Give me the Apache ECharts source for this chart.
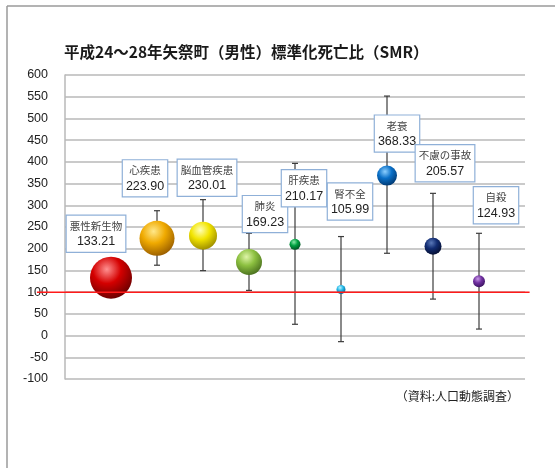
<!DOCTYPE html>
<html>
<head>
<meta charset="utf-8">
<script src="https://cdn.jsdelivr.net/npm/echarts@6/dist/echarts.min.js"></script>
<style>
html,body{margin:0;padding:0;background:#fff;}
#chart{width:555px;height:468px;}
</style>
</head>
<body>
<div id="chart"></div>
<script>
// ---- data ----
const categories = ['悪性新生物','心疾患','脳血管疾患','肺炎','肝疾患','腎不全','老衰','不慮の事故','自殺'];
const smrValues  = [133.21, 223.90, 230.01, 169.23, 210.17, 105.99, 368.33, 205.57, 124.93];
const upperCI    = [157, 287.5, 313, 235.5, 396.5, 228, 551.5, 327.5, 235.5];
const lowerCI    = [112, 162, 149.5, 104, 26, -14, 189.5, 84, 15];
const bubbleDiameters = [42, 35, 28, 26, 11, 9, 20, 17, 12];
const referenceValue = 100;
const yTicks = {min: -100, max: 600, interval: 50};

// ---- layout / style ----
const labelOffsets = [[-15,-44],[-12,-60],[4,-58],[16,-48],[9,-56],[9,-88],[10,-42],[12,-83],[17,-76]];
const refLineExtent = [-0.61, 10.1];
const ballColors = [
  ['#ff9090','#d40000','#620000'],
  ['#ffe88a','#f0aa00','#935800'],
  ['#ffffb8','#f2e400','#968600'],
  ['#dff5a8','#8cc040','#456a1c'],
  ['#8ae8a8','#00a040','#004a1e'],
  ['#c0f4ff','#20b8e8','#085c8a'],
  ['#8ccfff','#0a70c8','#00346a'],
  ['#5a78b8','#122c72','#040c2c'],
  ['#c898e6','#7030a0','#36105a']
];
const FONT = '"Noto Sans CJK JP", "Liberation Sans", sans-serif';

function ballGradient(c){
  return new echarts.graphic.RadialGradient(0.4, 0.3, 0.75, [
    {offset:0, color:c[0]},
    {offset:0.45, color:c[1]},
    {offset:1, color:c[2]}
  ]);
}

const points = categories.map((name,i)=>({
  name: name,
  value: [i+1, smrValues[i]],
  symbolSize: bubbleDiameters[i],
  itemStyle: {color: ballGradient(ballColors[i]), opacity: 1},
  label: {offset: labelOffsets[i]}
}));

const errData = categories.map((n,i)=>[i+1, lowerCI[i], upperCI[i]]);

const chart = echarts.init(document.getElementById('chart'), null, {renderer:'canvas'});
chart.setOption({
  animation: false,
  backgroundColor: '#fff',
  textStyle: {fontFamily: FONT},
  title: {
    text: '平成24～28年矢祭町（男性）標準化死亡比（SMR）',
    left: 59, top: 39,
    textStyle: {fontSize: 15.5, fontWeight: 'bold', color: '#1a1a1a', fontFamily: FONT}
  },
  grid: {left: 65, right: 30, top: 75, bottom: 89},
  xAxis: {type: 'value', min: 0, max: 10, show: false},
  yAxis: {
    type: 'value', min: yTicks.min, max: yTicks.max, interval: yTicks.interval,
    axisLine: {show: true, lineStyle: {color: '#b8b8b8', width: 1.5}},
    axisTick: {show: false},
    axisLabel: {fontSize: 12.5, color: '#222', margin: 17, fontFamily: '"Liberation Sans", Arial, sans-serif'},
    splitLine: {lineStyle: {color: '#b8b8b8', width: 1.5}}
  },
  series: [
    {
      type: 'custom',
      z: 2,
      silent: true,
      data: errData,
      renderItem: function(params, api){
        const x = api.value(0);
        const lo = api.coord([x, api.value(1)]);
        const hi = api.coord([x, api.value(2)]);
        const cap = 3;
        const st = {stroke:'#3c3c3c', lineWidth:1.2};
        return {type:'group', children:[
          {type:'line', shape:{x1:lo[0],y1:lo[1],x2:hi[0],y2:hi[1]}, style:st},
          {type:'line', shape:{x1:lo[0]-cap,y1:lo[1],x2:lo[0]+cap,y2:lo[1]}, style:st},
          {type:'line', shape:{x1:hi[0]-cap,y1:hi[1],x2:hi[0]+cap,y2:hi[1]}, style:st}
        ]};
      }
    },
    {
      type: 'scatter',
      z: 3,
      data: points,
      label: {
        show: true,
        position: 'inside',
        formatter: function(p){ return '{n|' + p.name + '}\n{v|' + smrValues[p.dataIndex].toFixed(2) + '}'; },
        backgroundColor: '#fff',
        borderColor: '#8fb0d8',
        borderWidth: 1.2,
        padding: [2, 3],
        align: 'center',
        rich: {
          n: {fontSize: 10.5, color: '#444', lineHeight: 16, align:'center', fontFamily: FONT},
          v: {fontSize: 12.5, color: '#222', lineHeight: 16, align:'center', fontFamily: '"Liberation Sans", Arial, sans-serif'}
        }
      }
    }
  ]
});

const p1 = chart.convertToPixel({gridIndex:0}, [refLineExtent[0], referenceValue]);
const p2 = chart.convertToPixel({gridIndex:0}, [refLineExtent[1], referenceValue]);
chart.setOption({
  graphic: [
    {type:'line', shape:{x1:7,y1:6,x2:555,y2:6}, style:{stroke:'#9a9a9a', lineWidth:1.5}},
    {type:'line', shape:{x1:7,y1:6,x2:7,y2:468}, style:{stroke:'#9a9a9a', lineWidth:1.5}},
    {type:'text', x:519, y:396, style:{text:'（資料:人口動態調査）', textAlign:'right', textVerticalAlign:'middle', font:'12px "Noto Sans CJK JP"', fill:'#222'}},
    {type:'line', z:10, silent:true, shape:{x1:p1[0],y1:p1[1],x2:p2[0],y2:p2[1]}, style:{stroke:'#ff1a1a', lineWidth:1.5}}
  ]
});
</script>
</body>
</html>
